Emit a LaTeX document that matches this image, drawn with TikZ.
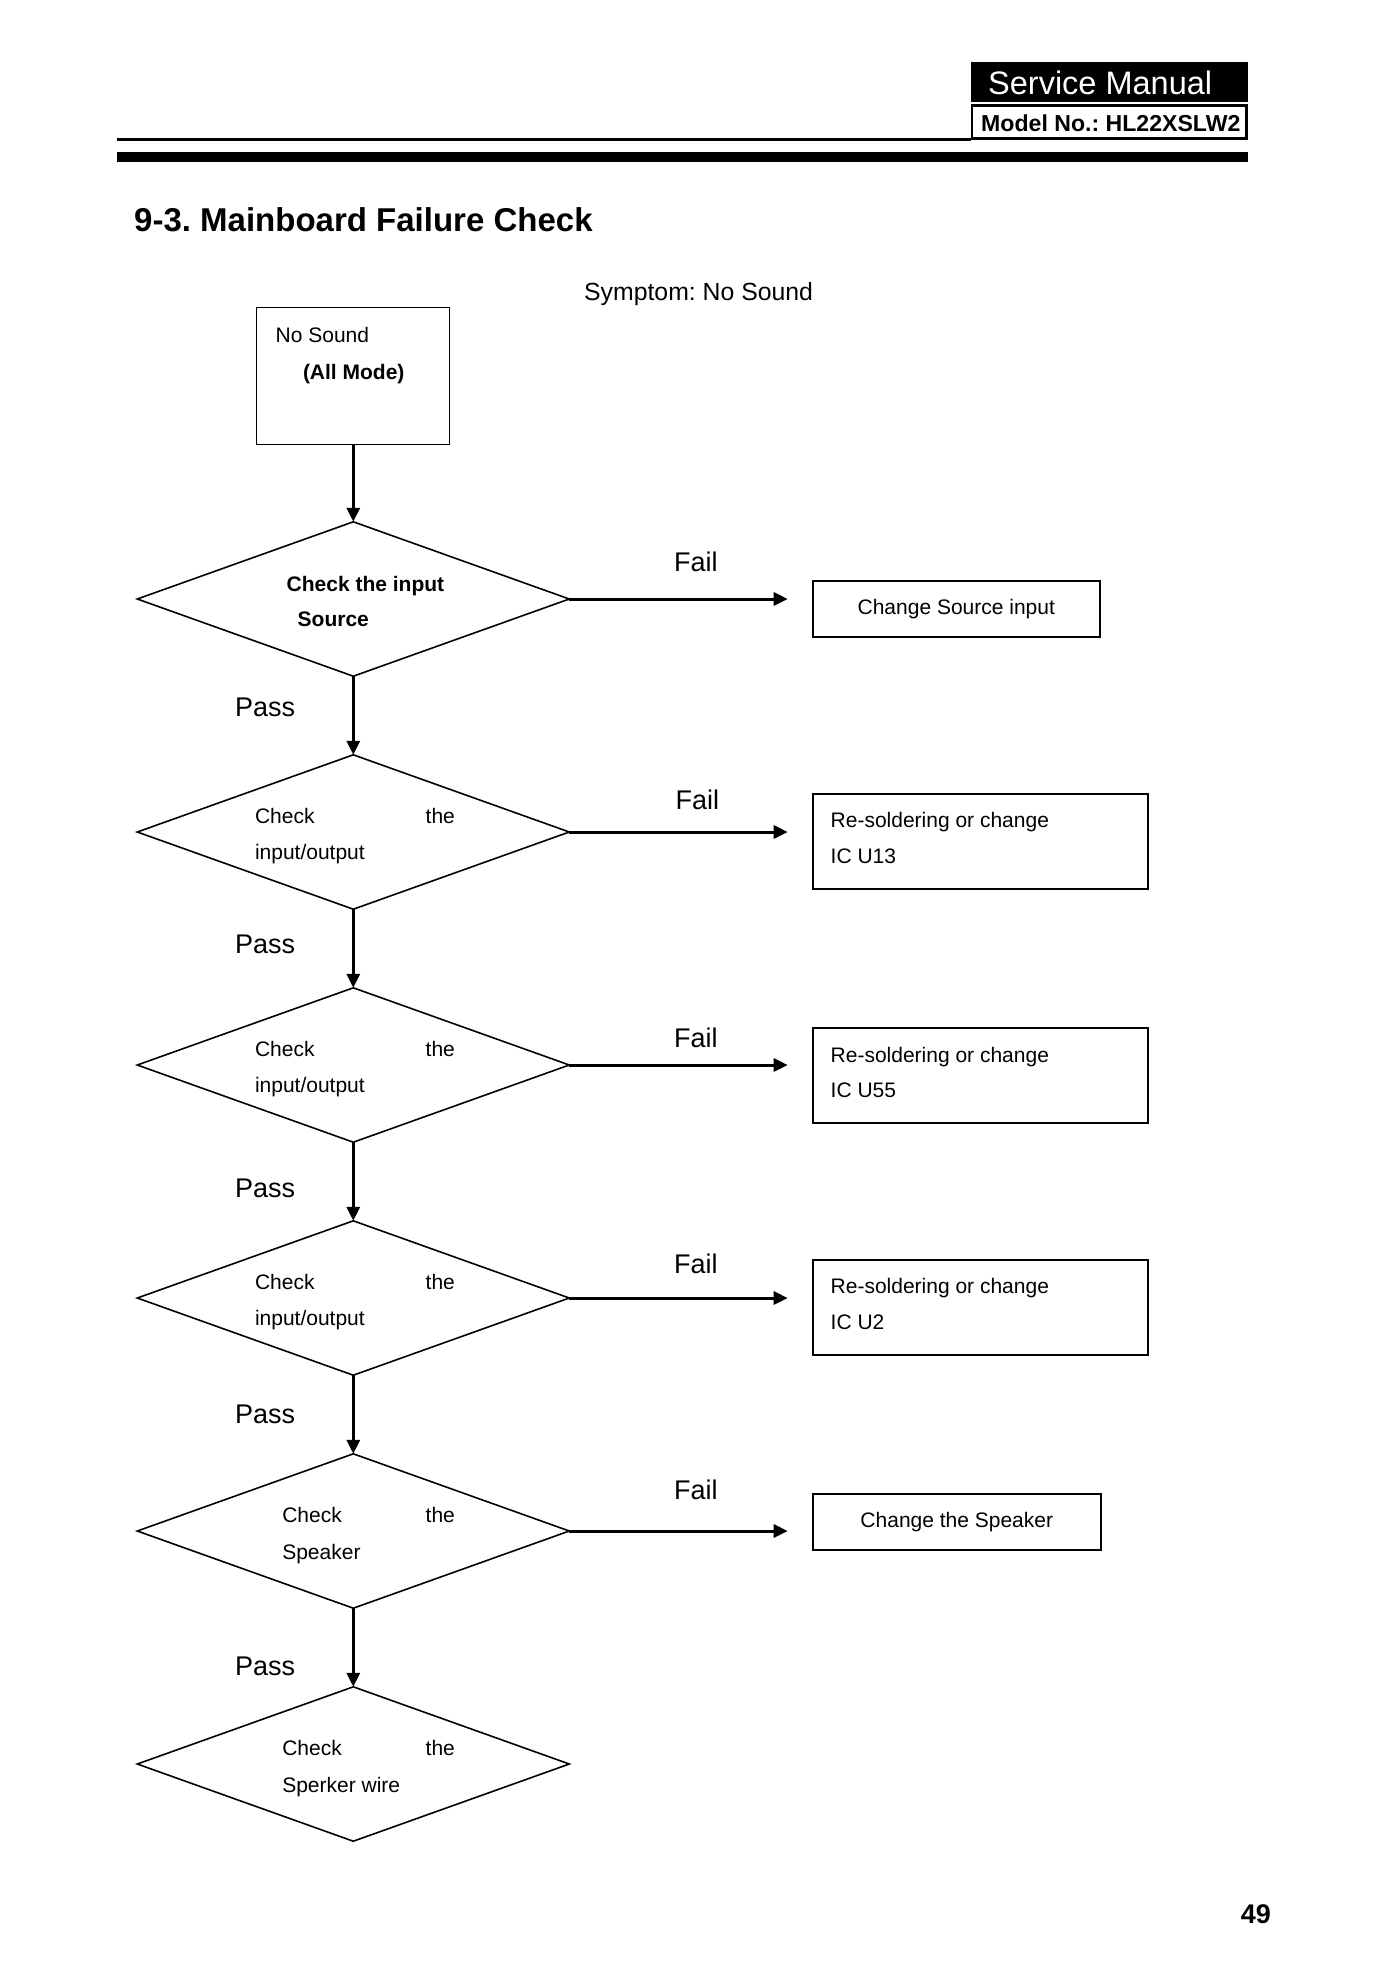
\documentclass[tikz,border=0pt]{standalone}
\usepackage{fontspec}
\setmainfont{Liberation Sans}
\usetikzlibrary{shapes.geometric,arrows.meta}
\begin{document}
\frenchspacing
\begin{tikzpicture}[x=1pt,y=-1pt,
  txt/.style={inner sep=0pt,outer sep=0pt,anchor=base west,font=\fontsize{21}{25}\selectfont},
  lbl/.style={inner sep=0pt,outer sep=0pt,anchor=base west,font=\fontsize{27}{32}\selectfont},
  dia/.style={draw,diamond,line width=1.6pt,minimum width=432pt,minimum height=154.4pt,inner sep=0pt,outer sep=0pt},
  rbox/.style={draw,line width=2pt,inner sep=0pt,outer sep=0pt,font=\fontsize{21}{25}\selectfont},
  conn/.style={line width=3pt,-{Triangle[length=14pt,width=13pt]}}]
\useasboundingbox (0,0) rectangle (1400,1981);
\fill[white] (0,0) rectangle (1400,1981);
% header
\node[fill=black,inner sep=0pt,outer sep=0pt,minimum width=277pt,minimum height=40.6pt,anchor=north west] (hdr) at (970.7,61.7) {};
\node[anchor=base west,inner sep=0pt,text=white,font=\fontsize{32.5}{38}\selectfont] (hdrt) at (988,94) {Service Manual};
\node[draw,line width=2.6pt,inner sep=0pt,outer sep=0pt,minimum width=274.4pt,minimum height=33.4pt,anchor=north west] (mdl) at (972,105.3) {};
\node[anchor=base west,inner sep=0pt,font=\bfseries\fontsize{23.1}{28}\selectfont] (mdlt) at (981,131) {Model No.: HL22XSLW2};
\fill[black] (117,137.5) rectangle (970.7,140.7);
\fill[black] (117,151.7) rectangle (1247.7,161.7);
% title
\node[anchor=base west,inner sep=0pt,font=\bfseries\fontsize{33}{40}\selectfont] (title) at (134,231.5) {9-3. Mainboard Failure Check};
\node[anchor=base west,inner sep=0pt,font=\fontsize{24.8}{30}\selectfont] (sym) at (584,300.5) {Symptom: No Sound};
% start box
\node[draw,line width=1.3pt,inner sep=0pt,outer sep=0pt,minimum width=193pt,minimum height=137pt] (b0) at (353.3,375.8) {};
\node[txt] (b0a) at (275.7,342.7) {No Sound};
\node[txt] (b0b) at (303,379.6) {\bfseries (All Mode)};
% diamonds
\node[dia] (d1) at (353.3,599) {};
\node[dia] (d2) at (353.3,832) {};
\node[dia] (d3) at (353.3,1065) {};
\node[dia] (d4) at (353.3,1298) {};
\node[dia] (d5) at (353.3,1531) {};
\node[dia] (d6) at (353.3,1764) {};
% diamond texts
\node[txt] (d1a) at (286.7,591.7) {\bfseries Check the input};
\node[txt] (d1b) at (297.7,626.7) {\bfseries Source};
\node[txt] (d2a) at (255,823.7) {Check};
\node[txt] (d2b) at (425.7,823.7) {the};
\node[txt] (d2c) at (255,859.9) {input/output};
\node[txt] (d3a) at (255,1056.7) {Check};
\node[txt] (d3b) at (425.7,1056.7) {the};
\node[txt] (d3c) at (255,1092.9) {input/output};
\node[txt] (d4a) at (255,1289.7) {Check};
\node[txt] (d4b) at (425.7,1289.7) {the};
\node[txt] (d4c) at (255,1325.9) {input/output};
\node[txt] (d5a) at (282.3,1522.5) {Check};
\node[txt] (d5b) at (425.7,1522.5) {the};
\node[txt] (d5c) at (282.3,1559) {Speaker};
\node[txt] (d6a) at (282.3,1755.5) {Check};
\node[txt] (d6b) at (425.7,1755.5) {the};
\node[txt] (d6c) at (282.3,1792) {Sperker wire};
% vertical connectors
\draw[conn] (b0.south) -- (d1.north);
\draw[conn] (d1.south) -- (d2.north);
\draw[conn] (d2.south) -- (d3.north);
\draw[conn] (d3.south) -- (d4.north);
\draw[conn] (d4.south) -- (d5.north);
\draw[conn] (d5.south) -- (d6.north);
% pass labels
\node[lbl] (p1) at (235,716.7) {Pass};
\node[lbl] (p2) at (235,953.3) {Pass};
\node[lbl] (p3) at (235,1197) {Pass};
\node[lbl] (p4) at (235,1423.3) {Pass};
\node[lbl] (p5) at (235,1675) {Pass};
% fail arrows
\coordinate (e1) at (787.7,599);
\coordinate (e2) at (787.7,832);
\coordinate (e3) at (787.7,1065);
\coordinate (e4) at (787.7,1298);
\coordinate (e5) at (787.7,1531);
\draw[conn] (d1.east) -- (e1);
\draw[conn] (d2.east) -- (e2);
\draw[conn] (d3.east) -- (e3);
\draw[conn] (d4.east) -- (e4);
\draw[conn] (d5.east) -- (e5);
\node[lbl] (f1) at (674,571) {Fail};
\node[lbl] (f2) at (675.7,809.3) {Fail};
\node[lbl] (f3) at (674,1047) {Fail};
\node[lbl] (f4) at (674,1273.3) {Fail};
\node[lbl] (f5) at (674,1499.3) {Fail};
% result boxes
\node[rbox,minimum width=287.3pt,minimum height=55.7pt] (r1) at (956.3,608.8) {Change Source input};
\node[rbox,minimum width=335.6pt,minimum height=94.7pt] (r2) at (980.5,841.7) {};
\node[txt] (r2a) at (830.7,827.7) {Re-soldering or change};
\node[txt] (r2b) at (830.7,863.3) {IC U13};
\node[rbox,minimum width=335.6pt,minimum height=94.7pt] (r3) at (980.5,1075.8) {};
\node[txt] (r3a) at (830.7,1062) {Re-soldering or change};
\node[txt] (r3b) at (830.7,1097.6) {IC U55};
\node[rbox,minimum width=335.6pt,minimum height=94.7pt] (r4) at (980.5,1307.5) {};
\node[txt] (r4a) at (830.7,1293.3) {Re-soldering or change};
\node[txt] (r4b) at (830.7,1329.3) {IC U2};
\node[rbox,minimum width=288.3pt,minimum height=56pt] (r5) at (956.8,1521.7) {Change the Speaker};
% page number
\node[anchor=base west,inner sep=0pt,font=\bfseries\fontsize{27}{32}\selectfont] (pg) at (1240.7,1923) {49};
\end{tikzpicture}
\end{document}
